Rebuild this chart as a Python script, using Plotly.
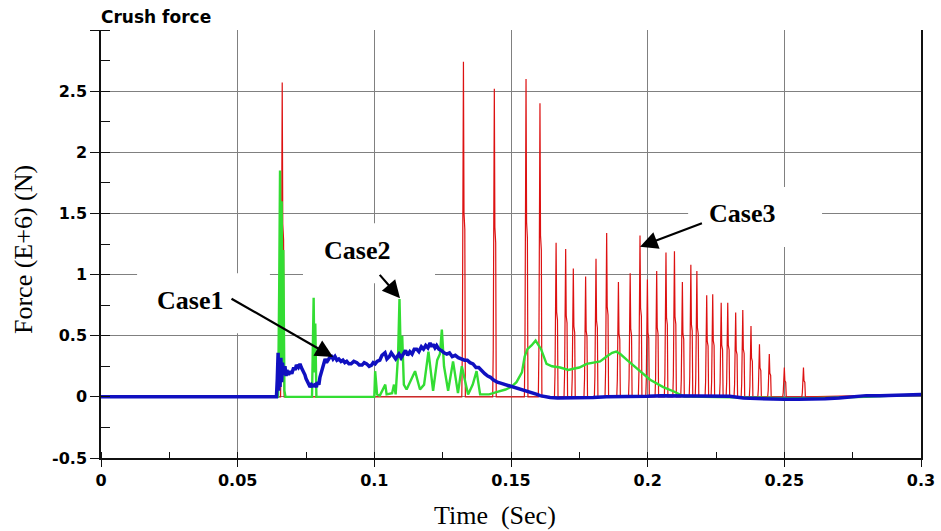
import plotly.graph_objects as go

# ---- Case3: impact force peaks (time in s, force in E+6 N) ----
case3_peak_t = [0.0663, 0.1326, 0.1439, 0.1555, 0.1606, 0.1665, 0.1700, 0.1728,
                0.1773, 0.1811, 0.1850, 0.1893, 0.1936, 0.1972, 0.1999, 0.2033,
                0.2067, 0.2098, 0.2127, 0.2158, 0.2180, 0.2216, 0.2238, 0.2269,
                0.2293, 0.2322, 0.2348, 0.2378, 0.2409, 0.2445, 0.2500, 0.2570]
case3_peak_f = [2.57, 2.74, 2.52, 2.60, 2.40, 1.26, 1.21, 1.05,
                0.985, 1.13, 1.34, 0.94, 1.01, 1.32, 0.96, 1.03,
                1.18, 1.19, 0.94, 1.08, 1.03, 0.83, 0.84, 0.77,
                0.77, 0.69, 0.71, 0.58, 0.43, 0.35, 0.24, 0.24]

# ---- Case2 ----
case2_t = [0.0, 0.0648, 0.0652, 0.0655, 0.0658, 0.0661, 0.0664, 0.0667, 0.0671, 0.0675,
           0.0772, 0.0775, 0.0778, 0.0781, 0.0784, 0.0788,
           0.1000, 0.1003, 0.1010, 0.1020, 0.1040, 0.1045, 0.1065, 0.1072, 0.1078,
           0.1087, 0.1092, 0.1097, 0.1102, 0.1108, 0.1118, 0.1149, 0.1167, 0.1182,
           0.1198, 0.1215, 0.1230, 0.1240, 0.1247, 0.1255, 0.1270, 0.1288, 0.1306,
           0.1320, 0.1343, 0.1360, 0.1374, 0.1387, 0.1420, 0.1450, 0.1480, 0.1500,
           0.1520, 0.1540, 0.1550, 0.1560, 0.1575, 0.1590, 0.1600, 0.1610, 0.1630,
           0.1650, 0.1680, 0.1710, 0.1728, 0.1750, 0.1777, 0.1800, 0.1826, 0.1850,
           0.1870, 0.1885, 0.1900, 0.1925, 0.1960, 0.2009, 0.2057, 0.2100, 0.2130,
           0.2200, 0.2500, 0.2600, 0.2800, 0.3000]
case2_f = [0.0, 0.0, 0.9, 1.85, 0.3, 1.6, 0.2, 1.2, 0.05, 0.0,
           0.0, 0.5, 0.81, 0.2, 0.6, 0.0,
           0.0, 0.21, 0.02, 0.01, 0.10, 0.02, 0.03, 0.10, 0.02,
           0.35, 0.80, 0.30, 0.50, 0.10, 0.06, 0.21, 0.06, 0.10,
           0.37, 0.05, 0.30, 0.35, 0.55, 0.25, 0.05, 0.29, 0.03,
           0.25, 0.02, 0.10, 0.21, 0.02, 0.02, 0.04, 0.06, 0.08,
           0.12, 0.20, 0.33, 0.39, 0.42, 0.46, 0.42, 0.39, 0.27,
           0.25, 0.24, 0.22, 0.23, 0.24, 0.27, 0.28, 0.29, 0.33,
           0.36, 0.37, 0.35, 0.30, 0.23, 0.14, 0.08, 0.04, 0.005,
           0.0, -0.01, -0.01, 0.0, 0.02]

# ---- Case1 ----
case1_t = [0.0, 0.0642, 0.0645, 0.0648, 0.0650, 0.0652, 0.0655, 0.0658, 0.0661, 0.0664,
           0.0668, 0.0673, 0.0677, 0.0680, 0.0686, 0.0692, 0.0698, 0.0705, 0.0710,
           0.0715, 0.0722, 0.0728, 0.0733, 0.0738, 0.0746, 0.0750, 0.0755, 0.0760,
           0.0765, 0.0770, 0.0775, 0.0783, 0.0788, 0.0792, 0.0797, 0.0801, 0.0806,
           0.0810, 0.0815, 0.0820, 0.0825, 0.0830, 0.0836, 0.0842, 0.0849, 0.0856,
           0.0863, 0.0870, 0.0878, 0.0885, 0.0892, 0.0899, 0.0907, 0.0915, 0.0925,
           0.0936, 0.0945, 0.0955, 0.0963, 0.0972, 0.0981, 0.0990, 0.0996, 0.1003,
           0.1010, 0.1020, 0.1028, 0.1039, 0.1046, 0.1055, 0.1062, 0.1070, 0.1078,
           0.1090, 0.1098, 0.1106, 0.1114, 0.1122, 0.1130, 0.1138, 0.1146, 0.1155,
           0.1163, 0.1172, 0.1180, 0.1188, 0.1196, 0.1204, 0.1210, 0.1215, 0.1222,
           0.1228, 0.1236, 0.1245, 0.1255, 0.1265, 0.1275, 0.1285, 0.1296, 0.1307,
           0.1318, 0.1330, 0.1340, 0.1350, 0.1361, 0.1372, 0.1382, 0.1393, 0.1404,
           0.1415, 0.1425, 0.1435, 0.1450, 0.1465, 0.1480, 0.1497, 0.1513, 0.1530,
           0.1545, 0.1558, 0.1572, 0.1585, 0.1595, 0.1606, 0.1625, 0.1643, 0.1670,
           0.1700, 0.1750, 0.1800, 0.1850, 0.1900, 0.1950, 0.2000, 0.2050, 0.2100,
           0.2150, 0.2200, 0.2250, 0.2300, 0.2350, 0.2400, 0.2450, 0.2500, 0.2550,
           0.2600, 0.2650, 0.2700, 0.2750, 0.2800, 0.2850, 0.2900, 0.2950, 0.3000]
case1_f = [0.0, 0.0, 0.15, 0.36, 0.05, 0.30, 0.08, 0.32, 0.12, 0.28,
           0.18, 0.25, 0.17, 0.22, 0.18, 0.21, 0.19, 0.24, 0.22,
           0.26, 0.24, 0.27, 0.24, 0.22, 0.18, 0.15, 0.13, 0.11,
           0.08, 0.10, 0.09, 0.10, 0.08, 0.12, 0.10, 0.16, 0.20,
           0.24, 0.27, 0.31, 0.28, 0.30, 0.33, 0.34, 0.31, 0.33,
           0.30, 0.31, 0.29, 0.30, 0.28, 0.29, 0.27, 0.27, 0.29,
           0.28, 0.26, 0.26, 0.28, 0.27, 0.25, 0.26, 0.28, 0.27,
           0.29, 0.30, 0.34, 0.36, 0.31, 0.33, 0.36, 0.33, 0.31,
           0.35, 0.32, 0.35, 0.38, 0.34, 0.37, 0.35, 0.39, 0.39,
           0.37, 0.41, 0.39, 0.42, 0.40, 0.44, 0.41, 0.43, 0.40,
           0.42, 0.39, 0.38, 0.36, 0.35, 0.36, 0.33, 0.34, 0.32,
           0.31, 0.30, 0.30, 0.28, 0.27, 0.24, 0.24, 0.21, 0.19,
           0.17, 0.16, 0.14, 0.12, 0.11, 0.10, 0.09, 0.08, 0.07,
           0.06, 0.05, 0.04, 0.03, 0.02, 0.01, 0.0, -0.005, -0.01,
           -0.01, -0.005, -0.005, 0.0, 0.0, 0.005, 0.005, 0.01, 0.01,
           0.005, 0.01, 0.005, 0.005, -0.01, -0.015, -0.02, -0.02, -0.02,
           -0.02, -0.015, -0.01, 0.0, 0.01, 0.01, 0.015, 0.02, 0.02]

# ---- axis ticks ----
x_tickvals = [0, 0.05, 0.1, 0.15, 0.2, 0.25, 0.3]
x_ticktext = ["0", "0.05", "0.1", "0.15", "0.2", "0.25", "0.3"]
y_tickvals = [-0.5, 0, 0.5, 1, 1.5, 2, 2.5, 3]
y_ticktext = ["-0.5", "0", "0.5", "1", "1.5", "2", "2.5", ""]


def spike_trace(peak_t, peak_f):
    """Each Case3 impact is drawn as a narrow pulse rising to its peak and back to zero."""
    xs, ys = [0.0], [0.0]
    for t, f in zip(peak_t, peak_f):
        xs += [t - 0.0006, t - 0.0004, t - 0.0001, t, t + 0.0002, t + 0.0005, t + 0.0007]
        ys += [0.0, 0.15 * f, 0.6 * f, f, 0.55 * f, 0.5 * f, 0.0]
    xs.append(0.3)
    ys.append(0.02)
    return xs, ys


r_x, r_y = spike_trace(case3_peak_t, case3_peak_f)

fig = go.Figure()
fig.add_trace(go.Scatter(x=r_x, y=r_y, mode="lines", name="Case3",
                         line=dict(color="#dd1111", width=1.2)))
fig.add_trace(go.Scatter(x=case2_t, y=case2_f, mode="lines", name="Case2",
                         line=dict(color="#33dd33", width=2.4)))
fig.add_trace(go.Scatter(x=case1_t, y=case1_f, mode="lines", name="Case1",
                         line=dict(color="#1010c0", width=3.5)))

tick_font = dict(family="DejaVu Sans", size=16, color="black", weight="bold")
serif = "Liberation Serif, Times New Roman, serif"

fig.update_layout(
    width=941, height=531,
    margin=dict(l=101, r=20, t=30, b=73, autoexpand=False),
    paper_bgcolor="white", plot_bgcolor="white",
    showlegend=False,
    title=dict(text="Crush force", x=101 / 941, xanchor="left",
               y=1 - 17 / 531, yanchor="middle",
               font=dict(family="DejaVu Sans", size=17, color="black", weight="bold")),
    xaxis=dict(range=[0, 0.3], tickvals=x_tickvals, ticktext=x_ticktext,
               automargin=False, ticklabeloverflow="allow",
               showgrid=True, gridcolor="#808080", gridwidth=1,
               showline=True, linecolor="#111111", linewidth=1.5,
               ticks="outside", ticklen=7, tickcolor="#111111", tickwidth=1.2,
               minor=dict(dtick=0.025, ticks="inside", ticklen=6,
                          tickcolor="#111111", showgrid=False),
               zeroline=False, tickfont=tick_font),
    yaxis=dict(range=[-0.5, 3.0], tickvals=y_tickvals, ticktext=y_ticktext,
               automargin=False,
               showgrid=True, gridcolor="#808080", gridwidth=1,
               showline=True, linecolor="#111111", linewidth=1.5, mirror=True,
               ticks="outside", ticklen=9, tickcolor="#111111", tickwidth=1.2,
               minor=dict(dtick=0.25, ticks="inside", ticklen=9,
                          tickcolor="#111111", showgrid=False),
               zeroline=False, tickfont=tick_font),
)

# axis titles
title_font = dict(family=serif, size=26, color="black")
fig.add_annotation(text="Time  (Sec)", xref="paper", yref="paper",
                   x=(495 - 101) / 820, y=0, yanchor="middle", yshift=-57,
                   showarrow=False, font=title_font)
fig.add_annotation(text="Force (E+6) (N)", xref="paper", yref="paper",
                   x=0, y=(458 - 250) / 428, xanchor="center", xshift=-77,
                   textangle=-90, showarrow=False, font=title_font)

# white label backgrounds, drawn over the grid but under the curves
label_boxes = [(0.0132, 0.0618, 0.52, 1.01),
               (0.0739, 0.1222, 0.93, 1.42),
               (0.2148, 0.2638, 1.225, 1.716)]
for x0, x1, y0, y1 in label_boxes:
    fig.add_shape(type="rect", xref="x", yref="y", x0=x0, x1=x1, y0=y0, y1=y1,
                  fillcolor="white", line=dict(width=0), layer="between")

label_font = dict(family=serif, size=26, color="black", weight="bold")
labels = [("Case1", 0.0326, 0.79), ("Case2", 0.0936, 1.20), ("Case3", 0.2345, 1.50)]
for txt, lx, ly in labels:
    fig.add_annotation(x=lx, y=ly, xref="x", yref="y", text=txt, showarrow=False,
                       font=label_font)

arrows = [((0.0472, 0.81), (0.0849, 0.326)),
          ((0.1015, 1.01), (0.1094, 0.806)),
          ((0.2204, 1.424), (0.1972, 1.228))]
for (tx, ty), (hx, hy) in arrows:
    fig.add_annotation(x=hx, y=hy, ax=tx, ay=ty, xref="x", yref="y",
                       axref="x", ayref="y", text="", showarrow=True,
                       arrowhead=2, arrowsize=1.6, arrowwidth=2.2,
                       arrowcolor="black", standoff=0)

fig.write_html("out.html")
